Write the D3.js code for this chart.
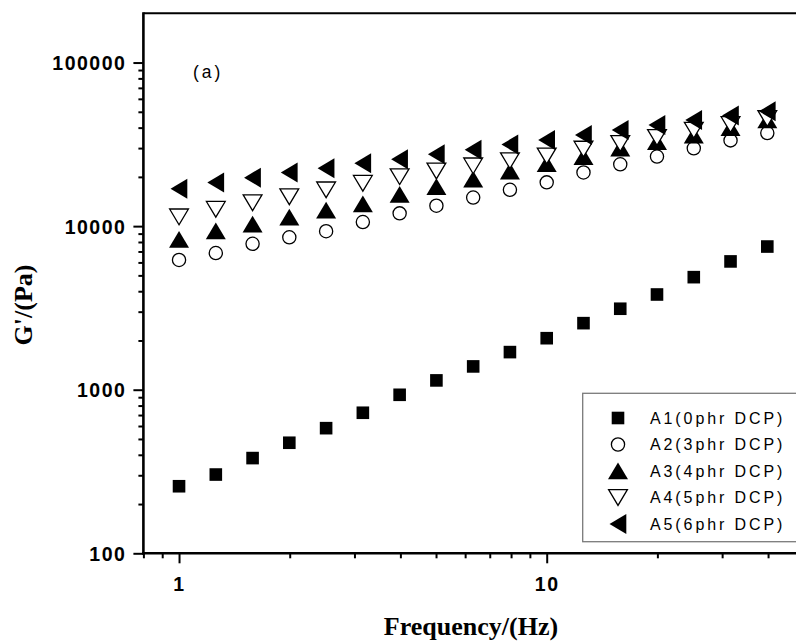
<!DOCTYPE html>
<html>
<head>
<meta charset="utf-8">
<script src="https://cdn.jsdelivr.net/npm/d3@7"></script>
<style>
  html, body { margin: 0; padding: 0; background: #fff; }
  svg { display: block; }
</style>
</head>
<body>
<svg id="chart" width="796" height="642"></svg>
<script>
// ---- data ----
const frequency = [1, 1.259, 1.585, 1.995, 2.512, 3.162, 3.981, 5.012, 6.31, 7.943, 10, 12.59, 15.85, 19.95, 25.12, 31.62, 39.81];
const seriesNames = ["A1(0phr DCP)", "A2(3phr DCP)", "A3(4phr DCP)", "A4(5phr DCP)", "A5(6phr DCP)"];
const a1 = [257, 303, 382, 474, 582, 723, 931, 1140, 1388, 1698, 2065, 2552, 3126, 3820, 4876, 6085, 7503];
const a2 = [6210, 6850, 7800, 8550, 9310, 10590, 11970, 13330, 14960, 16680, 18520, 21280, 23880, 26620, 29920, 33420, 37070];
const a3 = [8280, 9350, 10280, 11330, 12500, 13650, 15620, 17400, 19360, 21700, 24100, 26600, 30000, 32800, 36000, 40000, 44500];
const a4 = [11400, 12680, 13900, 15130, 16680, 18280, 20060, 21730, 23370, 25120, 26840, 29600, 32050, 34900, 38600, 41800, 45500];
const a5 = [16900, 18460, 19770, 21280, 22550, 24200, 25600, 27460, 29310, 31540, 33570, 36060, 38650, 41500, 44560, 47530, 50360];
const seriesValues = [a1, a2, a3, a4, a5];
const symbols = ["square", "circle", "triangleUp", "triangleDown", "triangleLeft"];
const xMajorTicks = [1, 10];
const xMinorTicks = [0.8, 0.9, 2, 3, 4, 5, 6, 7, 8, 9, 20, 30, 40];
const yMajorTicks = [100, 1000, 10000, 100000];
const yMinorTicks = [200, 300, 400, 500, 600, 700, 800, 900, 2000, 3000, 4000, 5000, 6000, 7000, 8000, 9000,
                     20000, 30000, 40000, 50000, 60000, 70000, 80000, 90000];
const xTitle = "Frequency/(Hz)";
const yTitle = "G'/(Pa)";
const panelLabel = "(a)";

// ---- layout ----
const svg = d3.select("#chart");
const plotL = 143.4, plotR = 803.7, plotT = 13.3, plotB = 553.3;
const x = d3.scaleLog().domain([0.8, 50]).range([plotL, plotR]);
const y = d3.scaleLog().domain([100, 200000]).range([plotB, plotT]);

// frame top line
svg.append("line").attr("x1", plotL).attr("x2", 796).attr("y1", plotT).attr("y2", plotT)
  .attr("stroke", "#000").attr("stroke-width", 2);

// axes
function styleAxis(g, w) {
  g.select(".domain").remove();
  g.selectAll(".tick line").attr("stroke", "#000").attr("stroke-width", w);
}
const yMajor = svg.append("g").attr("transform", `translate(${plotL},0)`)
  .call(d3.axisLeft(y).tickValues(yMajorTicks).tickSize(10).tickPadding(7).tickFormat(d3.format("d")));
styleAxis(yMajor, 2);
yMajor.selectAll("text").attr("font-family", "'Liberation Sans', Arial, sans-serif")
  .attr("font-weight", "bold").attr("font-size", "19.5px").attr("fill", "#000")
  .attr("letter-spacing", "1.5px").attr("dy", "0.36em");
const yMinor = svg.append("g").attr("transform", `translate(${plotL},0)`)
  .call(d3.axisLeft(y).tickValues(yMinorTicks).tickSize(5).tickFormat(""));
styleAxis(yMinor, 2);

const xMajor = svg.append("g").attr("transform", `translate(0,${plotB})`)
  .call(d3.axisBottom(x).tickValues(xMajorTicks).tickSize(10).tickPadding(14).tickFormat(d3.format("d")));
styleAxis(xMajor, 2);
xMajor.selectAll("text").attr("font-family", "'Liberation Sans', Arial, sans-serif")
  .attr("font-weight", "bold").attr("font-size", "19.5px").attr("fill", "#000")
  .attr("letter-spacing", "1.5px");
const xMinor = svg.append("g").attr("transform", `translate(0,${plotB})`)
  .call(d3.axisBottom(x).tickValues(xMinorTicks).tickSize(5).tickFormat(""));
styleAxis(xMinor, 2);

// axis lines
svg.append("line").attr("x1", plotL).attr("x2", plotL).attr("y1", plotT - 1).attr("y2", plotB + 1.3)
  .attr("stroke", "#000").attr("stroke-width", 2.6);
svg.append("line").attr("x1", plotL - 1.3).attr("x2", 796).attr("y1", plotB).attr("y2", plotB)
  .attr("stroke", "#000").attr("stroke-width", 2.6);

// titles
svg.append("text").attr("x", 471).attr("y", 635).attr("text-anchor", "middle")
  .attr("font-family", "'Liberation Serif', 'Times New Roman', serif").attr("font-weight", "bold")
  .attr("font-size", "26px").text(xTitle);
svg.append("text").attr("transform", "translate(32,305) rotate(-90)").attr("text-anchor", "middle")
  .attr("font-family", "'Liberation Serif', 'Times New Roman', serif").attr("font-weight", "bold")
  .attr("font-size", "26px").text(yTitle);
svg.append("text").attr("x", 193).attr("y", 77.5)
  .attr("font-family", "'Liberation Sans', Arial, sans-serif").attr("font-size", "17.5px")
  .attr("letter-spacing", "3px").text(panelLabel);

// marker drawing
function drawMarker(g, type, cx, cy) {
  if (type === "square") {
    g.append("rect").attr("x", cx - 6.3).attr("y", cy - 6.3).attr("width", 12.6).attr("height", 12.6).attr("fill", "#000");
  } else if (type === "circle") {
    g.append("circle").attr("cx", cx).attr("cy", cy).attr("r", 6.6).attr("fill", "#fff")
      .attr("stroke", "#000").attr("stroke-width", 1.3);
  } else if (type === "triangleUp") {
    g.append("path").attr("d", `M${cx},${cy - 8.5}L${cx + 10},${cy + 8.3}L${cx - 10},${cy + 8.3}Z`).attr("fill", "#000");
  } else if (type === "triangleDown") {
    g.append("path").attr("d", `M${cx - 9.4},${cy - 7.8}L${cx + 9.4},${cy - 7.8}L${cx},${cy + 7.9}Z`)
      .attr("fill", "#fff").attr("stroke", "#000").attr("stroke-width", 1.3);
  } else if (type === "triangleLeft") {
    g.append("path").attr("d", `M${cx - 8.5},${cy}L${cx + 8.3},${cy - 10}L${cx + 8.3},${cy + 10}Z`).attr("fill", "#000");
  }
}

const plot = svg.append("g");
seriesValues.forEach((vals, si) => {
  const g = plot.append("g");
  vals.forEach((v, i) => drawMarker(g, symbols[si], x(frequency[i]), y(v)));
});

// legend
const legend = svg.append("g");
legend.append("rect").attr("x", 582.7).attr("y", 393.3).attr("width", 230).attr("height", 148.4)
  .attr("fill", "#fff").attr("stroke", "#7a7a7a").attr("stroke-width", 1.3);
seriesNames.forEach((name, i) => {
  const cy = 418 + i * 26.5;
  drawMarker(legend, symbols[i], 618, cy);
  legend.append("text").attr("x", 650).attr("y", cy + 5.8)
    .attr("font-family", "'Liberation Sans', Arial, sans-serif").attr("font-size", "16px")
    .attr("letter-spacing", "2.9px").attr("fill", "#000").text(name);
});
</script>
</body>
</html>
